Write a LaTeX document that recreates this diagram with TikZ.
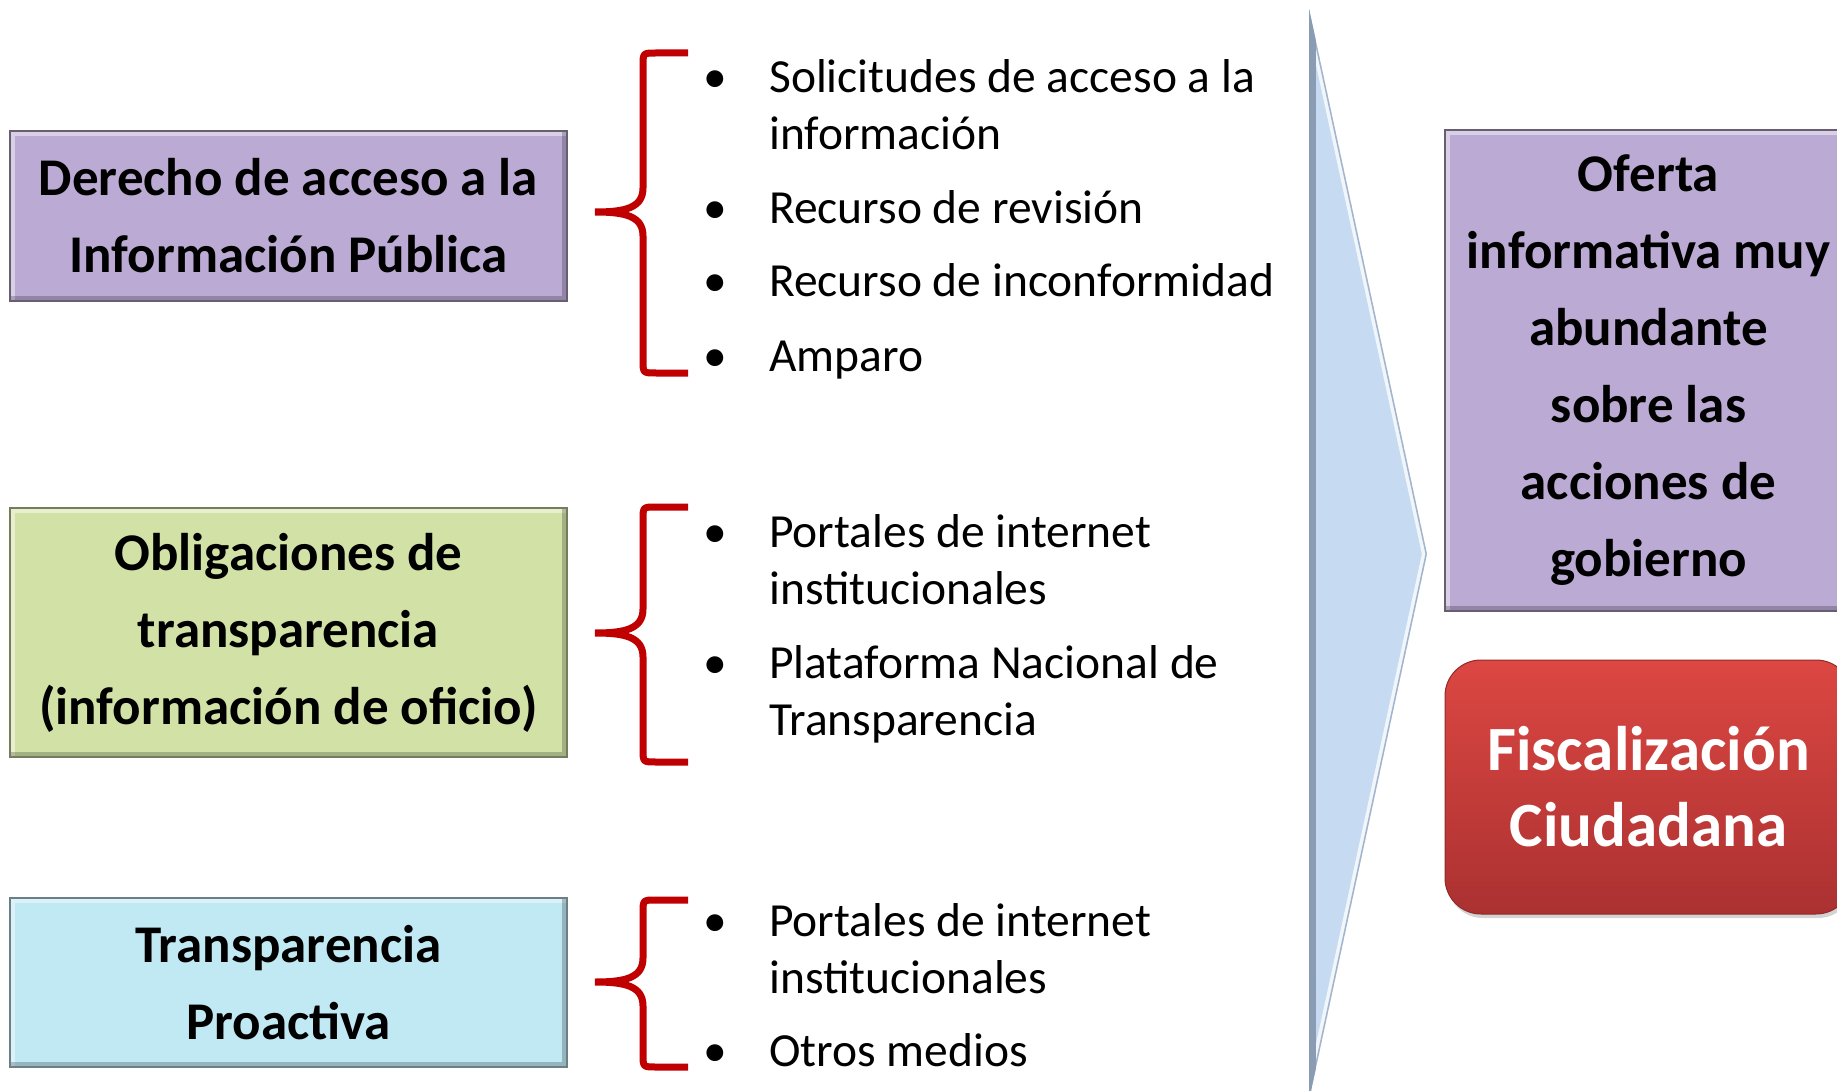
\documentclass[tikz,border=0pt]{standalone}
\usepackage{fontspec}
\setmainfont{Carlito}
\usetikzlibrary{positioning, calc, shadows}

\definecolor{lila}{HTML}{BBAAD3}
\definecolor{verde}{HTML}{D2E2A6}
\definecolor{celeste}{HTML}{C0E9F4}
\definecolor{rojollave}{HTML}{C00000}
\definecolor{rojoalto}{HTML}{DC4742}
\definecolor{rojobajo}{HTML}{AB3131}
\definecolor{azulflecha}{HTML}{C6DAF1}
\definecolor{grisflecha}{HTML}{8A9CB3}

\begin{document}
\begin{tikzpicture}[x=1pt, y=-1pt,
    caja/.style={draw=#1!55!black, fill=#1, line width=2pt, minimum width=557pt,
        align=center, inner sep=0pt, font=\bfseries\fontsize{53}{77}\selectfont,
        path picture={
            \draw[white, opacity=.45, line width=10pt] (path picture bounding box.south west)
                -- (path picture bounding box.north west) -- (path picture bounding box.north east);
            \draw[black, opacity=.22, line width=10pt] (path picture bounding box.north east)
                -- (path picture bounding box.south east) -- (path picture bounding box.south west);
        }},
    item/.style={anchor=base west, align=left, inner sep=0pt, font=\fontsize{47.5}{57}\selectfont},
    punto/.style={anchor=base, inner sep=0pt, font=\fontsize{47.5}{57}\selectfont},
    llave/.style={draw=rojollave, line width=7pt}]
\useasboundingbox (0,0) rectangle (1837,1091);

\node[caja=lila, minimum height=170pt] (derecho) at (288.5,216) {Derecho de acceso a la\\Información Pública};
\node[caja=verde, minimum height=249pt] (obligaciones) at (288.5,632.5) {Obligaciones de\\transparencia\\(información de oficio)};
\node[caja=celeste, minimum height=169pt] (proactiva) at (288.5,982.5) {Transparencia\\Proactiva};

\foreach \t/\m/\b in {53/212/373, 507/633/762, 900/982/1067}
{
    \draw[llave] (688,\t) -- (656,\t) .. controls (643,\t) .. (643,\t+13) -- (643,\m-24)
        .. controls (643,\m-4) and (625,\m) .. (595,\m)
        .. controls (625,\m) and (643,\m+4) .. (643,\m+24) -- (643,\b-13)
        .. controls (643,\b) .. (656,\b) -- (688,\b);
}

\node[item] (solicitudes) at (769,150) {Solicitudes de acceso a la\\información};
\node[item] (revision) at (769,224) {Recurso de revisión};
\node[item] (inconformidad) at (769,297) {Recurso de inconformidad};
\node[item] (amparo) at (769,371) {Amparo};
\node[item] (portales) at (769,604) {Portales de internet\\institucionales};
\node[item] (plataforma) at (769,735) {Plataforma Nacional de\\Transparencia};
\node[item] (portalesb) at (769,993) {Portales de internet\\institucionales};
\node[item] (otros) at (769,1066) {Otros medios};

\foreach \n/\y in {1/93, 2/224, 3/297, 4/371, 5/547, 6/678, 7/936, 8/1066}
{
    \node[punto] (dot\n) at (715,\y) {•};
}

\coordinate (arriba) at (1309,9);
\coordinate (punta) at (1427,554);
\coordinate (abajo) at (1309,1100);
\begin{scope}
    \clip (arriba) -- (punta) -- (abajo) -- cycle;
    \fill[azulflecha] (arriba) -- (punta) -- (abajo) -- cycle;
    \draw[line width=10pt, white!75!azulflecha] (arriba) -- (punta) -- (abajo);
    \draw[line width=3pt, grisflecha!60!azulflecha] (arriba) -- (punta) -- (abajo);
    \draw[line width=14pt, grisflecha] (arriba) -- (abajo);
\end{scope}

\node[caja=lila, minimum width=407pt, minimum height=481pt] (oferta) at (1648.5,370.5)
    {Oferta\\informativa muy\\abundante\\sobre las\\acciones de\\gobierno};
\node[rounded corners=36pt, top color=rojoalto, bottom color=rojobajo, draw=rojobajo!85!black,
    line width=1pt, drop shadow={opacity=.35, shadow xshift=2pt, shadow yshift=-4pt},
    minimum width=407pt, minimum height=254pt, align=center, inner sep=0pt, text=white,
    font=\bfseries\fontsize{63}{76}\selectfont] (fiscal) at (1648.5,787) {Fiscalización\\Ciudadana};
\end{tikzpicture}
\end{document}
